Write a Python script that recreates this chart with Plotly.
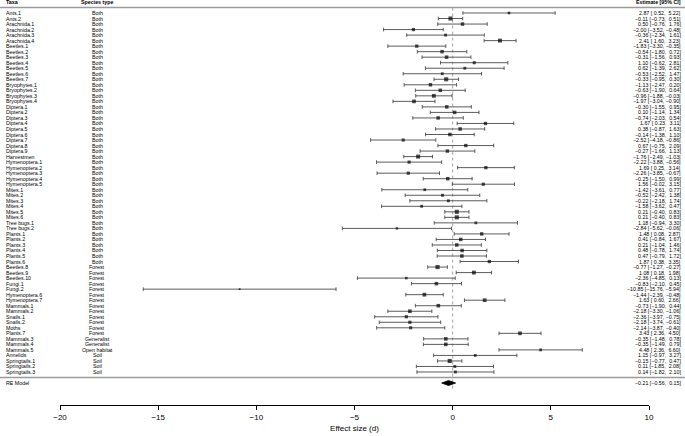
import plotly.graph_objects as go

taxa = ["Ants.1", "Ants.2", "Arachnida.1", "Arachnida.2", "Arachnida.3", "Arachnida.4",
        "Beetles.1", "Beetles.2", "Beetles.3", "Beetles.4", "Beetles.5", "Beetles.6", "Beetles.7",
        "Bryophytes.1", "Bryophytes.2", "Bryophytes.3", "Bryophytes.4",
        "Diptera.1", "Diptera.2", "Diptera.3", "Diptera.4", "Diptera.5", "Diptera.6",
        "Diptera.7", "Diptera.8", "Diptera.9", "Harvestmen",
        "Hymenoptera.1", "Hymenoptera.2", "Hymenoptera.3", "Hymenoptera.4", "Hymenoptera.5",
        "Mites.1", "Mites.2", "Mites.3", "Mites.4", "Mites.5", "Mites.6",
        "Tree bugs.1", "Tree bugs.2",
        "Plants.1", "Plants.2", "Plants.3", "Plants.4", "Plants.5", "Plants.6",
        "Beetles.8", "Beetles.9", "Beetles.10", "Fungi.1", "Fungi.2",
        "Hymenoptera.6", "Hymenoptera.7", "Mammals.1", "Mammals.2", "Snails.1", "Snails.2",
        "Moths", "Plants.7", "Mammals.3", "Mammals.4", "Mammals.5", "Annelids",
        "Springtails.1", "Springtails.2", "Springtails.3"]

species = ["Both"] * 46 + ["Forest"] * 13 + ["Generalist", "Generalist", "Open habitat",
                                             "Soil", "Soil", "Soil", "Soil"]

est = [2.87, -0.11, 0.50, -2.00, -0.36, 2.41,
       -1.83, -0.54, -0.31, 1.10, 0.62, -0.53, -0.33,
       -1.13, -0.63, -0.96, -1.97,
       -0.30, 0.10, -0.74, 1.67, 0.38, -0.14, -2.52, 0.67, -0.27, -1.76,
       -2.22, 1.69, -2.26, -0.25, 1.56,
       -1.42, -0.52, -0.22, -1.58, 0.21, 0.21,
       1.18, -2.84,
       1.48, 0.41, 0.21, 0.48, 0.47, 1.87,
       -0.77, 1.08, -2.36, -0.83, -10.85,
       -1.44, 1.63, -0.73, -2.18, -2.36, -2.18,
       -2.14, 3.43, -0.35, -0.35, 4.48, 1.15,
       -0.15, 0.11, 0.14]

ci_lo = [0.52, -0.73, -0.76, -3.52, -2.34, 1.60,
         -3.30, -1.80, -1.56, -0.62, -1.39, -2.52, -0.95,
         -2.47, -1.90, -1.88, -3.04,
         -1.55, -1.14, -2.03, 0.23, -0.87, -1.38, -4.18, -0.75, -1.66, -2.49,
         -3.88, 0.25, -3.85, -1.50, -0.02,
         -3.61, -2.42, -2.18, -3.62, -0.40, -0.40,
         -0.94, -5.62,
         0.08, -0.84, -1.04, -0.78, -0.79, 0.38,
         -1.27, 0.18, -4.85, -2.10, -15.76,
         -2.39, 0.60, -1.90, -3.30, -3.97, -3.74,
         -3.87, 2.36, -1.48, -1.49, 2.36, -0.97,
         -0.77, -1.85, -1.82]

ci_hi = [5.22, 0.51, 1.76, -0.48, 1.61, 3.23,
         -0.35, 0.72, 0.93, 2.81, 2.62, 1.47, 0.30,
         0.20, 0.64, -0.03, -0.90,
         0.95, 1.34, 0.54, 3.11, 1.63, 1.10, -0.86, 2.09, 1.13, -1.03,
         -0.56, 3.14, -0.67, 0.99, 3.15,
         0.77, 1.38, 1.74, 0.47, 0.83, 0.83,
         3.30, -0.06,
         2.87, 1.67, 1.46, 1.74, 1.72, 3.35,
         -0.27, 1.98, 0.13, 0.45, -5.94,
         -0.48, 2.66, 0.44, -1.06, -0.75, -0.61,
         -0.40, 4.50, 0.78, 0.79, 6.60, 3.27,
         0.47, 2.08, 2.10]

re_label = "RE Model"
re_est, re_lo, re_hi = -0.21, -0.56, 0.15
x_ticks = [-20, -15, -10, -5, 0, 5, 10]

FONT = "Liberation Sans, Arial, Helvetica, sans-serif"
k = len(taxa)
rows = list(range(k, 0, -1))

# pixel geometry of the axis region
W, H = 685, 436
L_M, R_M, T_M, B_M = 60, 36, 0, 31
plot_w = W - L_M - R_M


def px_to_paper(px):
    return (px - L_M) / plot_w


def fmt(v):
    s = f"{v:.2f}"
    return s.replace("-", "\u2212")


def ci_text(e, lo, hi):
    pl = "\u00a0" if lo >= 0 else ""
    ph = "\u00a0" if hi >= 0 else ""
    return f"{fmt(e)} [{pl}{fmt(lo)}, {ph}{fmt(hi)}]"


# marker sizes from random-effects style weights
tau2 = 1.0
se = [(h - l) / (2 * 1.96) for l, h in zip(ci_lo, ci_hi)]
wts = [1.0 / (s * s + tau2) for s in se]
wmin, wmax = min(wts), max(wts)
smin, smax = 1.8, 4.2
sizes = [smin + (smax - smin) * (w - wmin) / (wmax - wmin) for w in wts]

fig = go.Figure()

fig.add_trace(go.Scatter(
    x=est, y=rows, mode="markers",
    marker=dict(symbol="square", color="black", size=sizes, line=dict(width=0)),
    error_x=dict(type="data", symmetric=False,
                 array=[h - e for e, h in zip(est, ci_hi)],
                 arrayminus=[e - l for e, l in zip(est, ci_lo)],
                 color="#4a4a4a", thickness=0.9, width=1.8),
    cliponaxis=False, showlegend=False, hoverinfo="skip"))

# summary diamond
dh = 0.45
fig.add_trace(go.Scatter(
    x=[re_lo, re_est, re_hi, re_est, re_lo],
    y=[-1, -1 + dh, -1, -1 - dh, -1],
    mode="lines", fill="toself", fillcolor="black",
    line=dict(color="black", width=0.8),
    cliponaxis=False, showlegend=False, hoverinfo="skip"))

shapes = [
    dict(type="line", xref="paper", yref="y", x0=px_to_paper(0), x1=px_to_paper(W),
         y0=k + 1, y1=k + 1, line=dict(color="#9a9a9a", width=1.6)),
    dict(type="line", xref="paper", yref="y", x0=px_to_paper(0), x1=px_to_paper(W),
         y0=0, y1=0, line=dict(color="#9a9a9a", width=1.6)),
    dict(type="line", xref="x", yref="y", x0=0, x1=0, y0=-2, y1=k + 1,
         line=dict(color="#8a8a8a", width=0.8, dash="dot"), layer="below"),
]

fs = 5.3
ann = []
x_lab = px_to_paper(4)
x_sp = px_to_paper(97)
x_est = px_to_paper(683)
for name, sp, e, lo, hi, r in zip(taxa, species, est, ci_lo, ci_hi, rows):
    ann.append(dict(x=x_lab, y=r, xref="paper", yref="y", text=name, showarrow=False,
                    xanchor="left", yanchor="middle", font=dict(size=fs, color="black")))
    ann.append(dict(x=x_sp, y=r, xref="paper", yref="y", text=sp, showarrow=False,
                    xanchor="center", yanchor="middle", font=dict(size=fs, color="black")))
    ann.append(dict(x=x_est, y=r, xref="paper", yref="y", text=ci_text(e, lo, hi),
                    showarrow=False, xanchor="right", yanchor="middle",
                    font=dict(size=fs, color="black")))

ann.append(dict(x=x_lab, y=-1, xref="paper", yref="y", text=re_label, showarrow=False,
                xanchor="left", yanchor="middle", font=dict(size=fs, color="black")))
ann.append(dict(x=x_est, y=-1, xref="paper", yref="y", text=ci_text(re_est, re_lo, re_hi),
                showarrow=False, xanchor="right", yanchor="middle",
                font=dict(size=fs, color="black")))

# headers
ann.append(dict(x=x_lab, y=k + 2, xref="paper", yref="y", text="<b>Taxa</b>", showarrow=False,
                xanchor="left", yanchor="middle", font=dict(size=fs, color="black")))
ann.append(dict(x=x_sp, y=k + 2, xref="paper", yref="y", text="<b>Species type</b>",
                showarrow=False, xanchor="center", yanchor="middle",
                font=dict(size=fs, color="black")))
ann.append(dict(x=x_est, y=k + 2, xref="paper", yref="y", text="<b>Estimate [95% CI]</b>",
                showarrow=False, xanchor="right", yanchor="middle",
                font=dict(size=fs, color="black")))

row_px = 5.523
y_top = k + 13 / row_px
y_bot = y_top - (H - T_M - B_M) / row_px

fig.update_layout(
    width=W, height=H,
    margin=dict(l=L_M, r=R_M, t=T_M, b=B_M, pad=0),
    paper_bgcolor="white", plot_bgcolor="white",
    font=dict(family=FONT, color="black"),
    shapes=shapes, annotations=ann,
    xaxis=dict(range=[-20, 10], tickvals=x_ticks,
               ticktext=[str(v).replace("-", "\u2212") for v in x_ticks],
               showline=True, linecolor="black", linewidth=0.8,
               ticks="outside", ticklen=4, tickwidth=0.8, tickcolor="black",
               showgrid=False, zeroline=False, tickfont=dict(size=8),
               title=dict(text="Effect size (d)", font=dict(size=8), standoff=4)),
    yaxis=dict(range=[y_bot, y_top], visible=False, showgrid=False, zeroline=False),
)

fig.write_html("out.html",
               config={"displayModeBar": False},
               post_script="document.body.style.margin='0px';document.body.style.padding='0px';")
